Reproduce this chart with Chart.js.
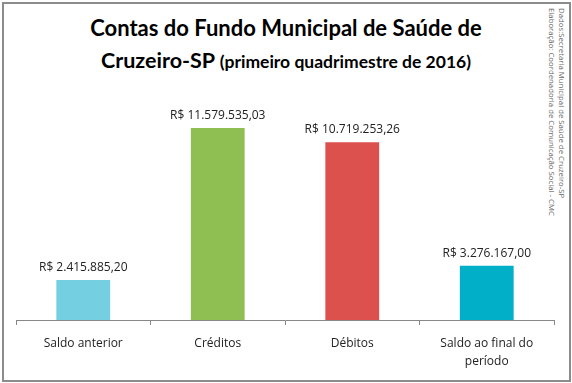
<!DOCTYPE html>
<html>
<head>
<meta charset="utf-8">
<script src="https://cdn.jsdelivr.net/npm/chart.js@4.4.0/dist/chart.umd.min.js"></script>
<style>
  body { margin: 0; background: #fff; }
  #wrap { position: relative; width: 572px; height: 383px; overflow: hidden; }
  #frame { position: absolute; left: 2px; top: 2px; width: 565px; height: 376px; border: 2px solid #8c8c8c; }
  #title { position: absolute; left: 0; top: 11px; width: 572px; text-align: center;
           font-family: Lato, sans-serif; font-weight: bold; color: #000; }
  #title .l1 { font-size: 22px; line-height: 33px; }
  #title .l2 { font-size: 21.5px; line-height: 33px; }
  #title .sub { font-size: 17.5px; }
  #note { position: absolute; left: 567px; top: 8px; transform-origin: 0 0; transform: rotate(90deg);
          font-family: "Open Sans", sans-serif; font-size: 7.8px; line-height: 10px; color: #666; white-space: nowrap; }
  canvas { position: absolute; left: 0; top: 0; }
</style>
</head>
<body>
<div id="wrap">
  <div id="frame"></div>
  <div id="title">
    <div class="l1">Contas do Fundo Municipal de Saúde de</div>
    <div class="l2">Cruzeiro-SP <span class="sub">(primeiro quadrimestre de 2016)</span></div>
  </div>
  <div id="note">Dados:Secretaria Municipal de Saúde de Cruzeiro-SP<br>Elaboração: Coordenadoria de Comunicação Social - CMC</div>
  <canvas id="chart" width="572" height="383"></canvas>
</div>
<script>
  const categories = ['Saldo anterior', 'Créditos', 'Débitos', ['Saldo ao final do', 'período']];
  const values = [2415885.20, 11579535.03, 10719253.26, 3276167.00];
  const barColors = ['#74CFE0', '#8FBE52', '#DC504E', '#02AFC8'];

  function brl(v) {
    const parts = v.toFixed(2).split('.');
    const intPart = parts[0].replace(/\B(?=(\d{3})+(?!\d))/g, '.');
    return 'R$ ' + intPart + ',' + parts[1];
  }

  // value labels above each bar
  const valueLabels = {
    id: 'valueLabels',
    afterDatasetsDraw(chart) {
      const ctx = chart.ctx;
      const meta = chart.getDatasetMeta(0);
      ctx.save();
      ctx.font = '12px "Open Sans", sans-serif';
      ctx.fillStyle = '#222';
      ctx.textAlign = 'center';
      ctx.textBaseline = 'alphabetic';
      meta.data.forEach(function (bar, i) {
        ctx.fillText(brl(values[i]), bar.x, bar.y - 9);
      });
      ctx.restore();
    }
  };

  new Chart(document.getElementById('chart').getContext('2d'), {
    type: 'bar',
    data: {
      labels: categories,
      datasets: [{
        data: values,
        backgroundColor: barColors,
        borderWidth: 0,
        categoryPercentage: 1,
        barPercentage: 0.4
      }]
    },
    options: {
      responsive: false,
      animation: false,
      layout: { padding: { left: 16, right: 18, top: 88, bottom: 3 } },
      plugins: {
        legend: { display: false },
        title: { display: false },
        tooltip: { enabled: false }
      },
      scales: {
        y: { display: false, min: 0, max: 14000000 },
        x: {
          afterFit: function (s) { s.height = 60; },
          grid: { display: true, drawOnChartArea: false, offset: true, tickLength: 5, color: '#888' },
          border: { display: true, color: '#888', width: 1 },
          ticks: { color: '#222', padding: 9, font: { family: '"Open Sans", sans-serif', size: 12, lineHeight: 1.55 } }
        }
      }
    },
    plugins: [valueLabels]
  });
</script>
</body>
</html>
